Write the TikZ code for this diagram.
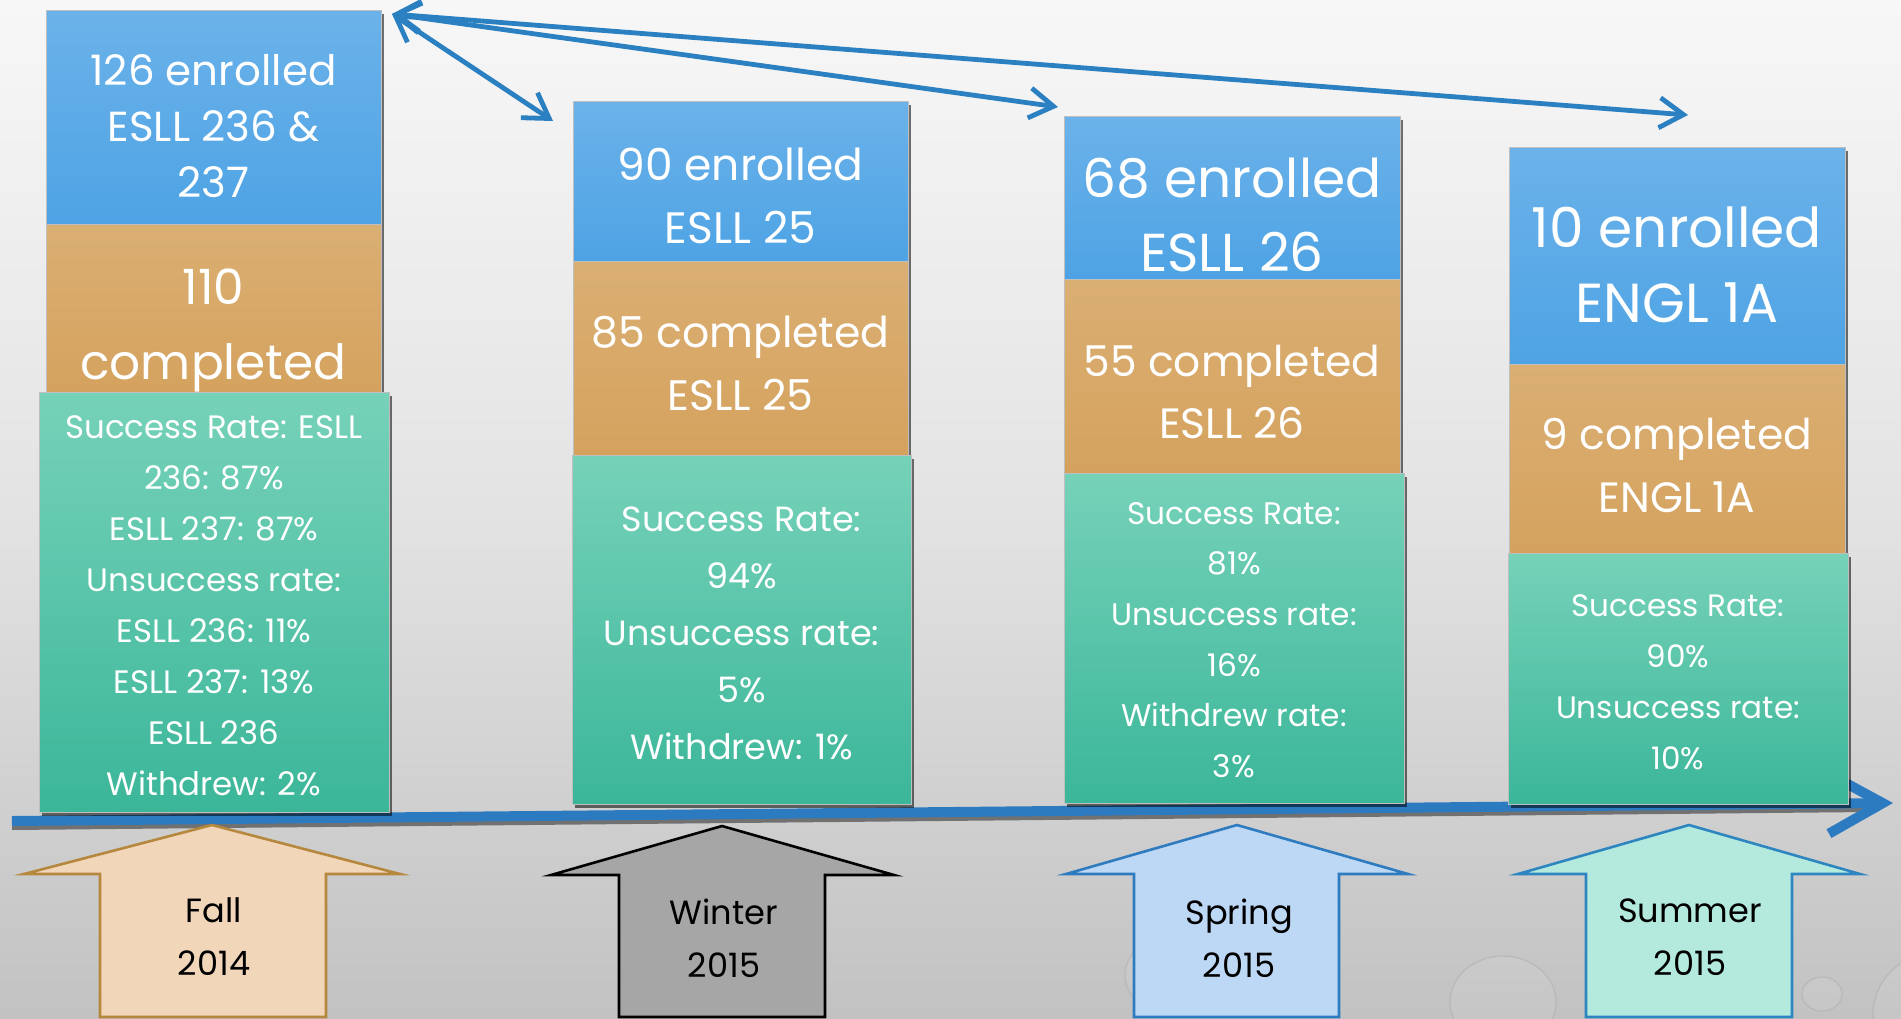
\documentclass[tikz,border=0pt]{standalone}
\usepackage{fontspec}
\setmainfont{Poppins}
\usetikzlibrary{arrows.meta,shadows,fit}
\definecolor{bgtop}{HTML}{F7F7F7}
\definecolor{bgmid}{HTML}{E3E3E3}
\definecolor{bgbot}{HTML}{C2C2C2}
\definecolor{bluetop}{HTML}{6BB2EA}
\definecolor{bluebot}{HTML}{4EA3E4}
\definecolor{orgtop}{HTML}{DAAF73}
\definecolor{orgbot}{HTML}{D5A25E}
\definecolor{grntop}{HTML}{76D2B9}
\definecolor{grnbot}{HTML}{3BB699}
\definecolor{arrowblue}{HTML}{2A80C0}
\definecolor{lineblue}{HTML}{2C7BC0}
\definecolor{fallfill}{HTML}{F2D6BA}
\definecolor{falldraw}{HTML}{B5883E}
\definecolor{winfill}{HTML}{A6A6A6}
\definecolor{sprfill}{HTML}{BDD8F5}
\definecolor{sprdraw}{HTML}{2E7BBF}
\definecolor{sumfill}{HTML}{B4EADD}
\definecolor{sumdraw}{HTML}{2E86C1}
\tikzset{
  boxbase/.style={inner sep=0pt, outer sep=0pt, draw=black!25, line width=0.4pt,
    drop shadow={shadow xshift=1.6pt, shadow yshift=-1.8pt, opacity=0.55, fill=black}},
  bluebox/.style={boxbase, top color=bluetop, bottom color=bluebot},
  orgbox/.style={boxbase, top color=orgtop, bottom color=orgbot},
  grnbox/.style={boxbase, top color=grntop, bottom color=grnbot},
  wtxt/.style={text=white, align=center, inner sep=0pt},
  btxt/.style={text=black, align=center, inner sep=0pt, font=\fontsize{16.8}{26.5}\selectfont},
  toparrow/.style={draw=arrowblue, line width=2.4pt, line cap=round,
    {Straight Barb[length=12pt,width=15pt]}-{Straight Barb[length=12pt,width=15pt]}},
  uparrow/.style={line width=1.3pt, line join=miter},
  droplet/.style={draw=gray!60, line width=0.7pt, fill=white, fill opacity=0.08, draw opacity=0.6}
}
\begin{document}
\begin{tikzpicture}[x=0.5pt,y=-0.5pt]
% background
\shade[top color=bgtop, bottom color=bgbot, middle color=bgmid] (0,0) rectangle (1901,1018);
\useasboundingbox (0,0) rectangle (1901,1018);

% droplets
\draw[droplet] (1503,1002) ellipse [x radius=53, y radius=46];
\draw[droplet] (1822,994) ellipse [x radius=20, y radius=17];
\draw[droplet] (1935,1015) circle [radius=62];
\draw[droplet] (1165,975) ellipse [x radius=40, y radius=36];

% timeline
\coordinate (tl0) at (12,821);
\coordinate (tl1) at (1893,803);
\draw[black, opacity=0.45, line width=5pt] ([yshift=-2pt]tl0) -- ([xshift=-12pt,yshift=-2pt]tl1);
\draw[lineblue, line width=5pt, -{Straight Barb[length=27pt,width=30pt]}] (tl0) -- (tl1);

% ---- Fall box
\node[bluebox, fit={(46,10) (381,224)}] (b1a) {};
\node[orgbox, fit={(46,224) (381,392)}] (b1b) {};
\node[wtxt, font=\fontsize{21}{28}\selectfont] (t1a) at (213.5,126) {126 enrolled\\ESLL 236 \&\\237};
\node[wtxt, font=\fontsize{24.3}{37.5}\selectfont] (t1b) at (213.5,330) {110\\completed};
\node[grnbox, fit={(39,392) (389,812)}] (b1c) {};
\node[wtxt, font=\fontsize{16.2}{25.5}\selectfont] (t1c) at (214,606) {Success Rate: ESLL\\236: 87\%\\ESLL 237: 87\%\\Unsuccess rate:\\ESLL 236: 11\%\\ESLL 237: 13\%\\ESLL 236\\Withdrew: 2\%};

% ---- Winter box
\node[bluebox, fit={(573,101) (908,261)}] (b2a) {};
\node[orgbox, fit={(573,261) (908,455)}] (b2b) {};
\node[grnbox, fit={(572,455) (911,804)}] (b2c) {};
\node[wtxt, font=\fontsize{22}{31.5}\selectfont] (t2a) at (740.5,196) {90 enrolled\\ESLL 25};
\node[wtxt, font=\fontsize{21.3}{31.5}\selectfont] (t2b) at (740.5,363) {85 completed\\ESLL 25};
\node[wtxt, font=\fontsize{17.5}{28.5}\selectfont] (t2c) at (741.5,633) {Success Rate:\\94\%\\Unsuccess rate:\\5\%\\Withdrew: 1\%};

% ---- Spring box
\node[bluebox, fit={(1064,116) (1400,279)}] (b3a) {};
\node[orgbox, fit={(1064,279) (1400,473)}] (b3b) {};
\node[grnbox, fit={(1064,473) (1404,803)}] (b3c) {};
\node[wtxt, font=\fontsize{26.7}{37}\selectfont] (t3a) at (1232,215) {68 enrolled\\ESLL 26};
\node[wtxt, font=\fontsize{21.2}{31}\selectfont] (t3b) at (1232,392) {55 completed\\ESLL 26};
\node[wtxt, font=\fontsize{15.6}{25.3}\selectfont] (t3c) at (1234,640) {Success Rate:\\81\%\\Unsuccess rate:\\16\%\\Withdrew rate:\\3\%};

% ---- Summer box
\node[bluebox, fit={(1509,147) (1845,364)}] (b4a) {};
\node[orgbox, fit={(1509,364) (1845,553)}] (b4b) {};
\node[grnbox, fit={(1508,553) (1848,804)}] (b4c) {};
\node[wtxt, font=\fontsize{27.5}{37.5}\selectfont] (t4a) at (1677,265) {10 enrolled\\ENGL 1A};
\node[wtxt, font=\fontsize{21.2}{31.5}\selectfont] (t4b) at (1677,465) {9 completed\\ENGL 1A};
\node[wtxt, font=\fontsize{15.5}{25.5}\selectfont] (t4c) at (1678,682) {Success Rate:\\90\%\\Unsuccess rate:\\10\%};

% ---- top arrows
\coordinate (apex) at (392,14);
\coordinate (ewin) at (553,121);
\coordinate (espr) at (1058,107);
\coordinate (esum) at (1688,115);
\draw[toparrow] (apex) -- (esum);
\draw[toparrow] (apex) -- (espr);
\draw[toparrow] (apex) -- (ewin);

% ---- bottom season arrows
\draw[uparrow, draw=falldraw, fill=fallfill] (24,874) -- (212,825) -- (400,874) -- (326,874) -- (326,1017) -- (100,1017) -- (100,874) -- cycle;
\draw[uparrow, draw=black, fill=winfill] (551,875) -- (722,826) -- (894,875) -- (825,875) -- (825,1017) -- (619,1017) -- (619,875) -- cycle;
\draw[uparrow, draw=sprdraw, fill=sprfill] (1066,874) -- (1237,825) -- (1408,874) -- (1339,874) -- (1339,1017) -- (1134,1017) -- (1134,874) -- cycle;
\draw[uparrow, draw=sumdraw, fill=sumfill] (1518,874) -- (1689,825) -- (1860,874) -- (1792,874) -- (1792,1017) -- (1586,1017) -- (1586,874) -- cycle;
\node[btxt] (lfall) at (214,937) {Fall\\2014};
\node[btxt] (lwin) at (724,938) {Winter\\2015};
\node[btxt] (lspr) at (1239,938) {Spring\\2015};
\node[btxt] (lsum) at (1690,937) {Summer\\2015};
\end{tikzpicture}
\end{document}
